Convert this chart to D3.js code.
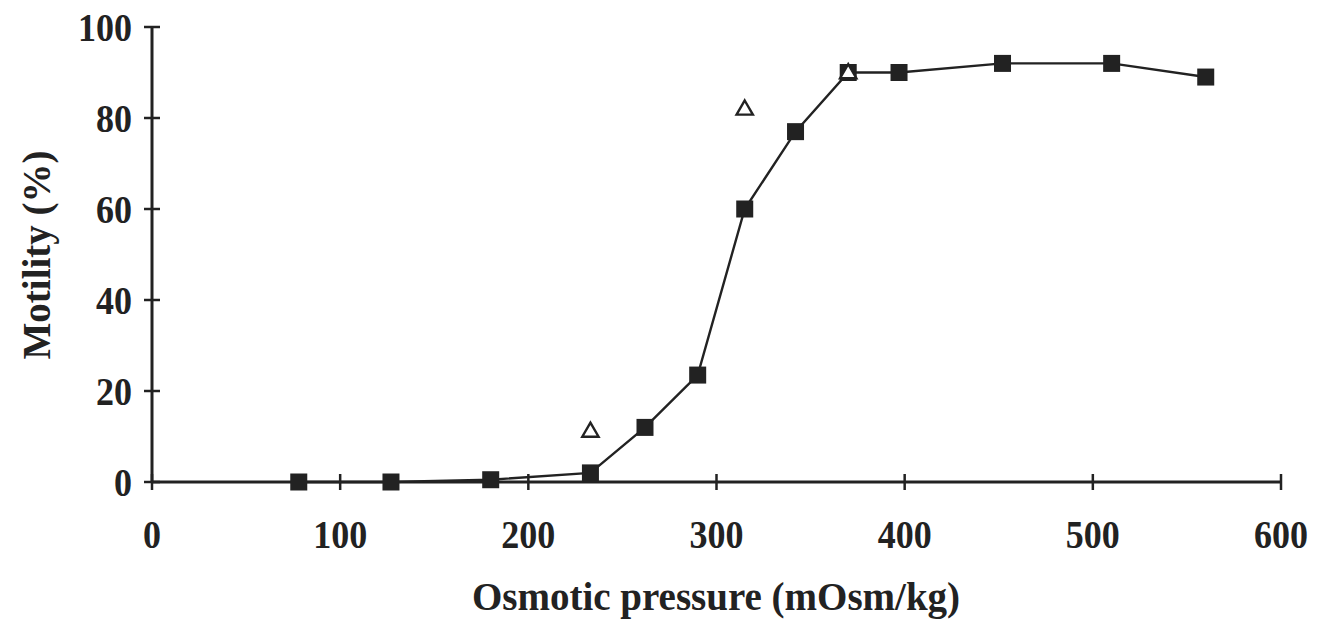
<!DOCTYPE html>
<html>
<head>
<meta charset="utf-8">
<script src="https://cdn.jsdelivr.net/npm/d3@7"></script>
<style>
  body { margin: 0; background: #fff; }
  svg text { font-family: "Liberation Serif", "Times New Roman", serif; font-weight: bold; fill: #222; }
</style>
</head>
<body>
<div id="chart"></div>
<script>
// squares: the main series (joined by a line)
var osmSquares = [78, 127, 180, 233, 262, 290, 315, 342, 370, 397, 452, 510, 560];
var motSquares = [0, 0, 0.5, 2, 12, 23.5, 60, 77, 90, 90, 92, 92, 89];
// open triangles, no line
var osmTriangles = [233, 315, 370];
var motTriangles = [11.2, 82, 90];

var xTicks = [0, 100, 200, 300, 400, 500, 600];
var yTicks = [0, 20, 40, 60, 80, 100];

var width = 1318, height = 620;
var ink = "#222";

var svg = d3.select("#chart")
  .append("svg")
  .attr("width", width)
  .attr("height", height);

var x = d3.scaleLinear().domain([0, 600]).range([152, 1281]);
var y = d3.scaleLinear().domain([0, 100]).range([482, 27]);

// axes: ticks cross the axis line
var xAxis = svg.append("g").attr("transform", "translate(0," + y(0) + ")");
xAxis.append("line")
  .attr("x1", x(0)).attr("x2", x(600))
  .attr("stroke", ink).attr("stroke-width", 3);
xAxis.selectAll(".tk").data(xTicks).enter().append("line")
  .attr("x1", function(d){ return x(d); }).attr("x2", function(d){ return x(d); })
  .attr("y1", -8).attr("y2", 8)
  .attr("stroke", ink).attr("stroke-width", 2.5);
xAxis.selectAll(".lb").data(xTicks).enter().append("text")
  .attr("transform", function(d){ return "translate(" + x(d) + ",66) scale(0.9,1)"; })
  .attr("text-anchor", "middle")
  .attr("font-size", 40)
  .text(function(d){ return d; });

var yAxis = svg.append("g").attr("transform", "translate(" + x(0) + ",0)");
yAxis.append("line")
  .attr("y1", y(0)).attr("y2", y(100))
  .attr("stroke", ink).attr("stroke-width", 3);
yAxis.selectAll(".tk").data(yTicks).enter().append("line")
  .attr("y1", function(d){ return y(d); }).attr("y2", function(d){ return y(d); })
  .attr("x1", -8).attr("x2", 8)
  .attr("stroke", ink).attr("stroke-width", 2.5);
yAxis.selectAll(".lb").data(yTicks).enter().append("text")
  .attr("transform", function(d){ return "translate(-20," + y(d) + ") scale(0.9,1)"; })
  .attr("dy", "0.35em")
  .attr("text-anchor", "end")
  .attr("font-size", 40)
  .text(function(d){ return d; });

// axis titles
svg.append("text")
  .attr("x", 716).attr("y", 610)
  .attr("text-anchor", "middle")
  .attr("font-size", 39)
  .text("Osmotic pressure (mOsm/kg)");

svg.append("text")
  .attr("transform", "translate(50,255) rotate(-90)")
  .attr("text-anchor", "middle")
  .attr("font-size", 39)
  .text("Motility (%)");

// line through the squares
var sqData = osmSquares.map(function(d, i){ return {x: d, y: motSquares[i]}; });
var triData = osmTriangles.map(function(d, i){ return {x: d, y: motTriangles[i]}; });

var line = d3.line()
  .x(function(d){ return x(d.x); })
  .y(function(d){ return y(d.y); });

svg.append("path")
  .datum(sqData)
  .attr("d", line)
  .attr("fill", "none")
  .attr("stroke", ink)
  .attr("stroke-width", 2.4);

var sq = 17;
svg.selectAll(".sq").data(sqData).enter().append("rect")
  .attr("x", function(d){ return x(d.x) - sq / 2; })
  .attr("y", function(d){ return y(d.y) - sq / 2; })
  .attr("width", sq).attr("height", sq)
  .attr("fill", ink);

var tri = d3.symbol().type(d3.symbolTriangle).size(115);
svg.selectAll(".tri").data(triData).enter().append("path")
  .attr("d", tri)
  .attr("transform", function(d){ return "translate(" + x(d.x) + "," + (y(d.y) + 1) + ")"; })
  .attr("fill", "#fff")
  .attr("stroke", ink)
  .attr("stroke-width", 2.4);
</script>
</body>
</html>
